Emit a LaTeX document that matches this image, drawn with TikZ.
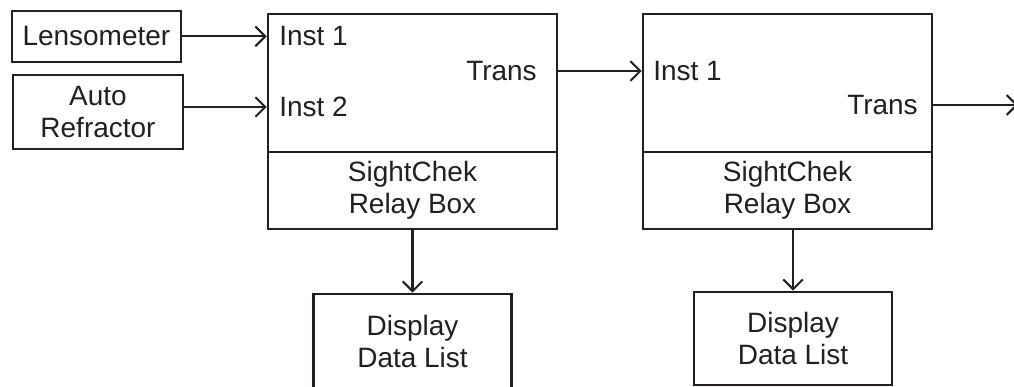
\documentclass[tikz,border=0pt]{standalone}
\usepackage{fontspec}
\setmainfont{Liberation Sans}
\usetikzlibrary{arrows.meta}
\definecolor{ink}{RGB}{35,31,32}

\begin{document}
\begin{tikzpicture}[
    box/.style={draw=ink, line width=1.8pt, inner sep=0pt, align=center},
    lbl/.style={inner sep=0pt},
    link/.style={draw=ink, line width=1.5pt, -{Straight Barb[length=7pt,width=14pt]}},
    font=\fontsize{19.9}{22.7}\selectfont, text=ink]
    \useasboundingbox (0,0) rectangle (25.35,-9.675);
    % instruments
    \node[box, minimum width=4.225cm, minimum height=1.275cm] (lenso) at (2.41,-0.91) {Lensometer};
    \node[box, minimum width=4.25cm, minimum height=1.85cm] (autoref) at (2.45,-2.8) {Auto\\Refractor};
    % relay boxes
    \node[box, minimum width=7.225cm, minimum height=3.45cm] (top1) at (10.3125,-2.075) {};
    \node[box, minimum width=7.225cm, minimum height=1.925cm] (bot1) at (10.3125,-4.7625) {SightChek\\Relay Box};
    \node[box, minimum width=7.225cm, minimum height=3.45cm] (top2) at (19.6875,-2.075) {};
    \node[box, minimum width=7.225cm, minimum height=1.925cm] (bot2) at (19.6875,-4.7625) {SightChek\\Relay Box};
    \node[lbl, anchor=west] (inst11) at (6.975,-0.91) {Inst 1};
    \node[lbl, anchor=west] (inst12) at (6.975,-2.675) {Inst 2};
    \node[lbl, anchor=east] (trans1) at (13.425,-1.775) {Trans};
    \node[lbl, anchor=west] (inst21) at (16.325,-1.775) {Inst 1};
    \node[lbl, anchor=east] (trans2) at (22.95,-2.625) {Trans};
    % displays
    \node[box, minimum width=4.95cm, minimum height=2.375cm] (disp1) at (10.3125,-8.5375) {Display\\Data List};
    \node[box, minimum width=4.95cm, minimum height=2.325cm] (disp2) at (19.825,-8.4625) {Display\\Data List};
    \coordinate (out) at (25.45,-2.625);
    % links
    \draw[link] (lenso.east) -- (lenso.east -| top1.west);
    \draw[link] (inst12 -| autoref.east) -- (inst12 -| top1.west);
    \draw[link] (trans1 -| top1.east) -- (trans1 -| top2.west);
    \draw[link] (trans2 -| top2.east) -- (out);
    \draw[link] (bot1.south) -- (disp1.north);
    \draw[link] (disp2.north |- bot2.south) -- (disp2.north);
\end{tikzpicture}
\end{document}
